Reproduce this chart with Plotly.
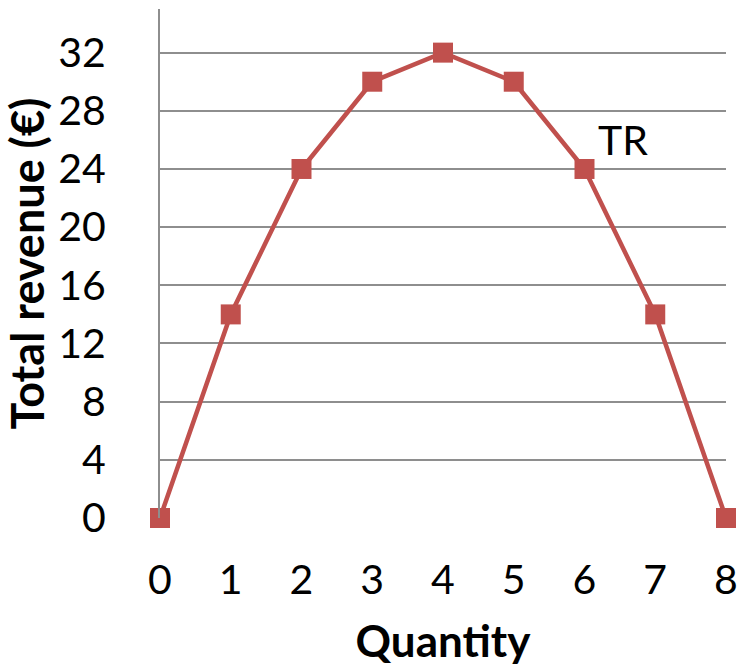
import plotly.graph_objects as go

quantity = [0, 1, 2, 3, 4, 5, 6, 7, 8]
total_revenue = [0, 14, 24, 30, 32, 30, 24, 14, 0]
y_ticks = [0, 4, 8, 12, 16, 20, 24, 28, 32]
series_label = "TR"

red = "#C0504D"
grid = "#8E8E8E"
font_family = "Lato, 'Open Sans', sans-serif"

fig = go.Figure()
fig.add_trace(go.Scatter(
    x=quantity, y=total_revenue, mode="lines+markers",
    line=dict(color=red, width=4.5),
    marker=dict(symbol="square", size=20, color=red),
    cliponaxis=False, showlegend=False,
))

fig.add_annotation(x=6.55, y=26, text=series_label, showarrow=False,
                   font=dict(size=41, color="black", family=font_family))

fig.update_layout(
    width=740, height=669,
    margin=dict(l=160, r=14, t=9, b=151, autoexpand=False),
    paper_bgcolor="white", plot_bgcolor="white",
    font=dict(family=font_family, color="black"),
)
fig.update_xaxes(
    range=[0, 8], tickvals=quantity, showgrid=False, zeroline=False,
    showline=False, ticks="", ticklabelstandoff=34, automargin=False,
    tickfont=dict(size=41),
    title=dict(text="<b>Quantity</b>", font=dict(size=44), standoff=24),
)
fig.update_yaxes(
    range=[0, 35], tickvals=y_ticks, showgrid=True, gridcolor=grid, gridwidth=2,
    zeroline=False, showline=True, linecolor=grid, linewidth=2, ticks="",
    automargin=False,
    ticklabelstandoff=44, tickfont=dict(size=41),
    title=dict(text="<b>Total revenue (€)</b>", font=dict(size=45), standoff=8),
)

fig.write_html("out.html")
